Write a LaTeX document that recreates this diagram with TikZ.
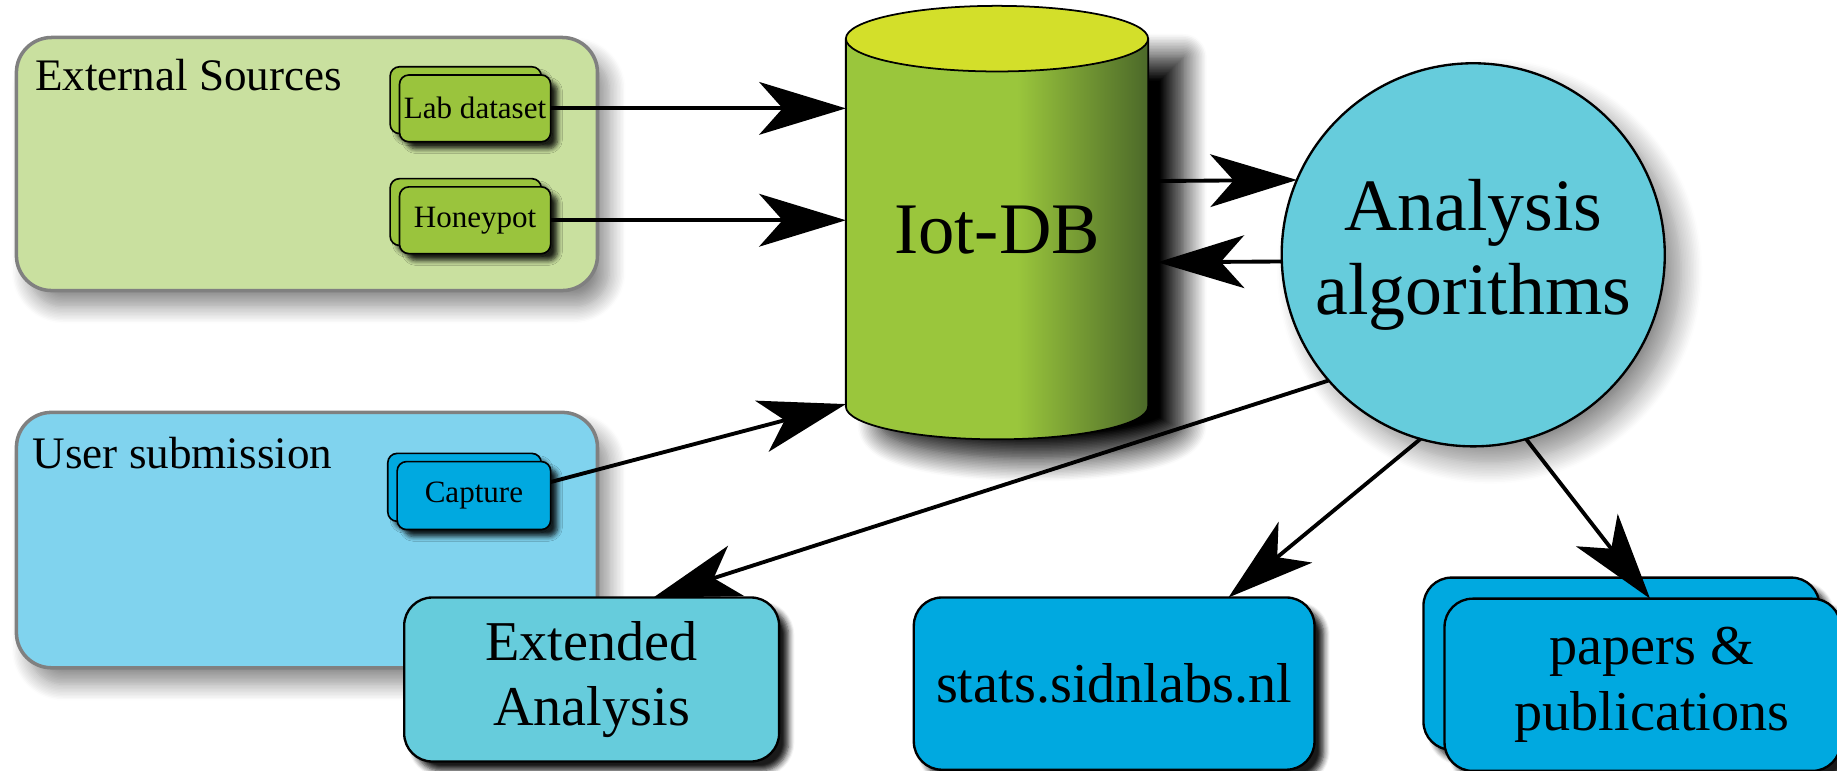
\documentclass[tikz,border=0pt]{standalone}
\usepackage{fontspec}
\setmainfont{Liberation Serif}
\usetikzlibrary{arrows.meta,shadows.blur}

\definecolor{srcgreen}{HTML}{C9E09F}
\definecolor{userblue}{HTML}{80D3EE}
\definecolor{zoneedge}{HTML}{808080}
\definecolor{chipgreen}{HTML}{9AC43D}
\definecolor{deepblue}{HTML}{00A9E0}
\definecolor{algblue}{HTML}{66CCDC}
\definecolor{dbtop}{HTML}{D3DF2A}
\definecolor{dbbody}{HTML}{9AC63C}
\definecolor{dbdark}{HTML}{4B6829}

\begin{document}
\begin{tikzpicture}[x=1pt,y=-1pt,
  every node/.style={inner sep=0pt, outer sep=0pt},
  zone/.style={draw=zoneedge, line width=3pt, rounded corners=30pt,
    minimum width=496pt,
    blur shadow={shadow xshift=10pt, shadow yshift=-14pt,
      shadow blur radius=14pt, shadow blur steps=12, shadow opacity=45}},
  zonelabel/.style={anchor=base west, font=\fontsize{38.5}{44}\selectfont},
  chip/.style={draw=black, line width=1.4pt, rounded corners=8pt,
    minimum width=129pt, minimum height=57pt,
    font=\fontsize{26.5}{30}\selectfont,
    blur shadow={shadow xshift=6pt, shadow yshift=-6pt,
      shadow blur radius=4pt, shadow blur steps=6, shadow opacity=85}},
  panel/.style={draw=black, line width=2pt, rounded corners=24pt,
    align=center, font=\fontsize{48}{56}\selectfont,
    blur shadow={shadow xshift=8pt, shadow yshift=-8pt,
      shadow blur radius=5pt, shadow blur steps=6, shadow opacity=90}},
  flow/.style={draw=black, line width=3.3pt, draw opacity=1, fill opacity=1,
    -{Stealth[length=74pt,width=45pt,inset=20pt,fill=black,color=black]}},
]
\useasboundingbox (0,0) rectangle (1568,658);

% input zones
\node[zone, fill=srcgreen, minimum height=216pt] (ext) at (262,140) {};
\node[zonelabel] (extlabel) at (30,77) {External Sources};
\node[zone, fill=userblue, minimum height=218pt] (user) at (262,461) {};
\node[zonelabel] (userlabel) at (28,400) {User submission};

% stacked source chips
\node[chip, fill=chipgreen] (labback) at (397.5,85.5) {};
\node[chip, fill=chipgreen] (lab) at (405.5,92.5) {Lab dataset};
\node[chip, fill=chipgreen] (honeyback) at (397.5,181) {};
\node[chip, fill=chipgreen] (honey) at (405.5,188) {Honeypot};
\node[chip, fill=deepblue, minimum width=131pt, minimum height=58pt] (capback) at (396.5,416) {};
\node[chip, fill=deepblue, minimum width=131pt, minimum height=58pt] (cap) at (404.5,423) {Capture};

% database cylinder, with its dark cast shadow
\path[fill=dbbody, blur shadow={shadow xshift=30pt, shadow yshift=-16pt,
      shadow blur radius=20pt, shadow blur steps=16, shadow opacity=100}]
  (722,33) -- (722,347) arc[start angle=180, end angle=0, x radius=129, y radius=28]
  -- (980,33) -- cycle;
\begin{scope}
  \clip (722,33) -- (722,347) arc[start angle=180, end angle=0, x radius=129, y radius=28]
    -- (980,33) -- cycle;
  \fill[left color=dbbody, right color=dbdark] (868,0) rectangle (981,400);
\end{scope}
\draw[line width=1.5pt] (722,33) -- (722,347)
  arc[start angle=180, end angle=0, x radius=129, y radius=28] -- (980,33);
\draw[line width=1.5pt, fill=dbtop] (851,33) ellipse[x radius=129, y radius=28];
\node[minimum width=258pt, minimum height=357pt, font=\fontsize{62}{70}\selectfont]
  (db) at (851,196.5) {Iot-DB};

% analysis
\node[circle, draw=black, line width=2pt, fill=algblue, minimum size=327pt,
  align=center, font=\fontsize{63}{72}\selectfont,
  blur shadow={shadow xshift=14pt, shadow yshift=-14pt,
    shadow blur radius=18pt, shadow blur steps=14, shadow opacity=45}]
  (alg) at (1257.5,217.5) {Analysis\\algorithms};

% outputs
\node[panel, fill=algblue, minimum width=320pt, minimum height=140pt]
  (extd) at (505,580) {Extended\\Analysis};
\node[panel, fill=deepblue, minimum width=342pt, minimum height=147pt]
  (stats) at (951,583.5) {stats.sidnlabs.nl};
\node[panel, fill=deepblue, minimum width=338pt, minimum height=147pt]
  (papersback) at (1384,566.5) {};
\node[panel, fill=deepblue, minimum width=338pt, minimum height=147pt]
  (papers) at (1402,584.5) {\hspace*{16pt}papers \&\\\hspace*{16pt}publications};

% data flow
\draw[flow] (lab.east) -- (lab.east -| db.west);
\draw[flow] (honey.east) -- (honey.east -| db.west);
\draw[flow] (cap.10) -- (db.229);
\draw[flow, shorten <=8pt] (db.18) -- (alg.157);
\draw[flow, shorten >=8pt] (alg.182) -- (db.-12);
\draw[flow] (alg.221) -- (extd.53);
\draw[flow] (alg.254) -- (stats.37);
\draw[flow] (alg.286) -- (papers.85);
\end{tikzpicture}
\end{document}
